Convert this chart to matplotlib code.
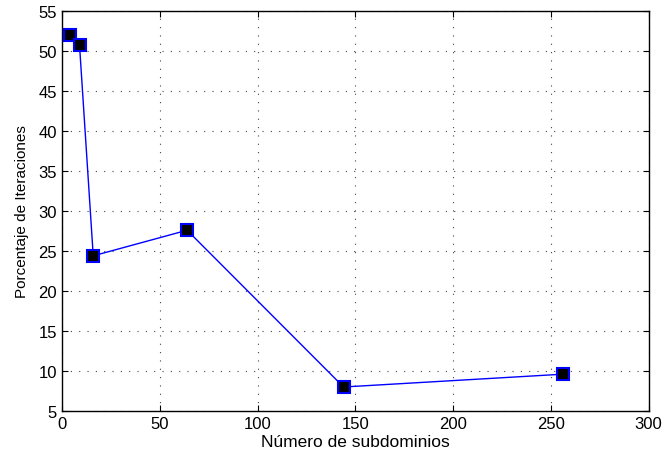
import matplotlib
matplotlib.use("Agg")
import matplotlib.pyplot as plt

plt.rcParams['font.family'] = ['Liberation Sans', 'DejaVu Sans']

subdominios = [4, 9, 16, 64, 144, 256]
porcentaje = [52.0, 50.7, 24.4, 27.6, 8.0, 9.6]
xticks = [0, 50, 100, 150, 200, 250, 300]
yticks = [5, 10, 15, 20, 25, 30, 35, 40, 45, 50, 55]

fig = plt.figure(figsize=(6.66, 4.56), dpi=100)
ax = fig.add_axes([0.093, 0.0965, 0.881, 0.877])

ax.plot(subdominios, porcentaje, color='#0000ff', linewidth=1.0,
        marker='s', markersize=9, markerfacecolor='black',
        markeredgecolor='#0000ff', markeredgewidth=1.5, clip_on=False, zorder=3)

ax.set_xlim(0, 300)
ax.set_ylim(5, 55)
ax.set_xticks(xticks)
ax.set_yticks(yticks)
ax.tick_params(direction='in', top=True, right=True, labelsize=12, length=4, width=0.8)
ax.grid(True, linestyle=(0, (1, 6.5)), color='#444444', linewidth=0.8)
for s in ax.spines.values():
    s.set_linewidth(1.0)

ax.set_xlabel('Número de subdominios', fontsize=12.5, labelpad=2)
ax.set_ylabel('Porcentaje de Iteraciones', fontsize=11, labelpad=7)

fig.savefig('out.png', dpi=100)
